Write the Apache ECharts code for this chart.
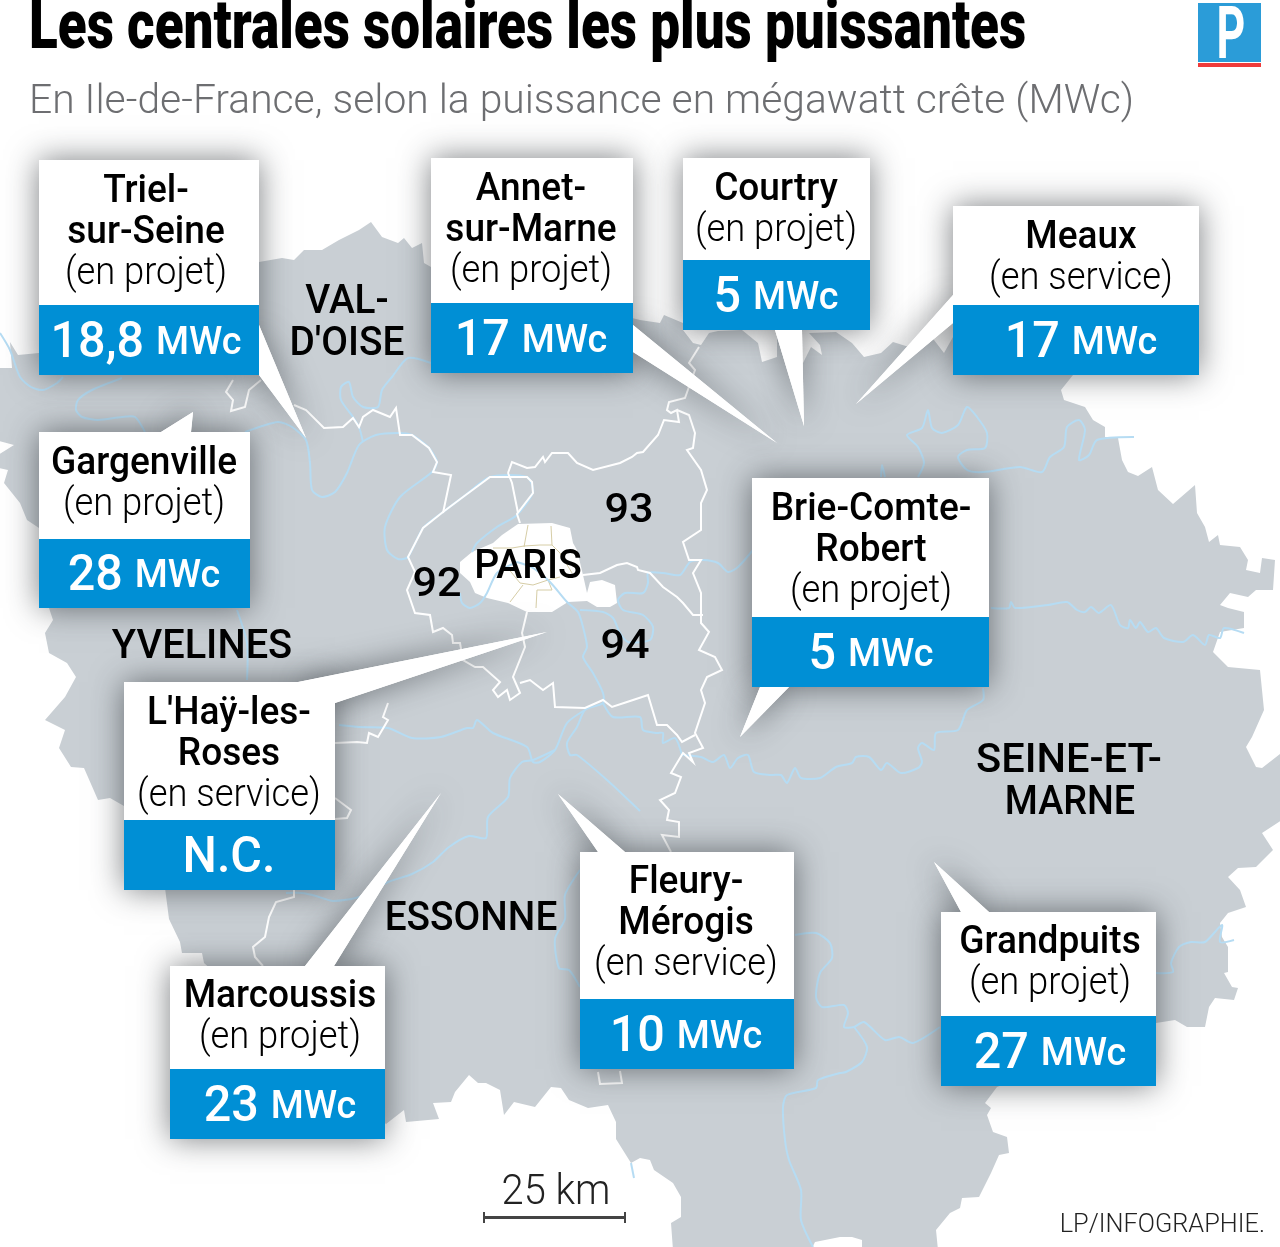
<!DOCTYPE html>
<html lang="fr">
<head>
<meta charset="utf-8">
<title>Les centrales solaires les plus puissantes</title>
<script src="https://cdn.jsdelivr.net/npm/echarts@6/dist/echarts.min.js"></script>
<style>
html, body { margin: 0; padding: 0; background: #fff; }
#main { width: 1280px; height: 1247px; }
</style>
</head>
<body>
<div id="main"></div>
<script>
// data
var cardNames = [['Triel-', 'sur-Seine'], ['Annet-', 'sur-Marne'], ['Courtry'], ['Meaux'], ['Gargenville'],
    ['Brie-Comte-', 'Robert'], ["L'Haÿ-les-", 'Roses'], ['Marcoussis'], ['Fleury-', 'Mérogis'], ['Grandpuits']];
var cardStatus = ['en projet', 'en projet', 'en projet', 'en service', 'en projet',
    'en projet', 'en service', 'en projet', 'en service', 'en projet'];
var cardValues = [18.8, 17, 5, 17, 28, 5, null, 23, 10, 27];
var unit = 'MWc';
var deptNames = ['VAL-', "D'OISE", 'YVELINES', 'ESSONNE', 'SEINE-ET-', 'MARNE', 'PARIS', '92', '93', '94'];

// card layout: x, y, width, height, band top, text centre, first line y
var cardBoxes = [
    [39, 160, 220, 215, 305, 146, 192],
    [431, 158, 202, 215, 303, 531, 190],
    [683, 158, 187, 172, 260, 776, 190],
    [953, 206, 246, 169, 305, 1081, 238],
    [39, 432, 211, 176, 539, 144, 464],
    [752, 478, 237, 209, 617, 871, 510],
    [124, 682, 211, 208, 820, 229, 714],
    [170, 966, 215, 173, 1069, 280, 997],
    [580, 852, 214, 217, 999, 686, 883],
    [941, 912, 215, 174, 1016, 1050, 943]
];
var cardPointers = [
    [[259, 325], [306, 438], [259, 375]],
    [[633, 325], [777, 443], [633, 352]],
    [[775, 330], [804, 426], [802, 330]],
    [[953, 295], [856, 404], [953, 323]],
    [[161, 432], [193, 412], [191, 432]],
    [[789, 687], [740, 737], [760, 687]],
    [[298, 682], [547, 632], [335, 703]],
    [[305, 966], [441, 793], [334, 966]],
    [[598, 852], [558, 794], [625, 852]],
    [[961, 912], [934, 862], [989, 912]]
];
var deptAnchors = [[347, 303], [347, 345], [202, 648], [471, 920], [1069, 762], [1070, 804], [528, 568], [437, 586], [629, 512], [625, 648]];
var deptScale = [0.97, 0.97, 0.995, 0.97, 1.04, 0.945, 0.98, 1.08, 1.08, 1.08];

// map outline, traced clockwise from the west edge
var regionOutline = [[-5, 368], [12, 368], [10, 342], [18, 355], [39, 353], [259, 262], [282, 258], [294, 260], [304, 250], [322, 250], [339, 240], [359, 230], [371, 222], [382, 237], [398, 243], [404, 238], [412, 248], [422, 243], [424, 263], [431, 267],
    [640, 320], [660, 323], [664, 315], [683, 323], [683, 330], [693, 343], [701, 345], [709, 333], [718, 331], [742, 330], [758, 343], [762, 362], [777, 357], [777, 330], [803, 363], [811, 347], [822, 355], [820, 345], [809, 333], [836, 332], [852, 343], [864, 357], [881, 353], [893, 342], [909, 347], [926, 333], [934, 340], [944, 353], [953, 337],
    [1073, 375], [1061, 390], [1064, 400], [1085, 407], [1093, 420], [1105, 427], [1105, 437], [1118, 438], [1122, 460], [1128, 472], [1138, 476], [1152, 467], [1158, 490], [1173, 504], [1195, 485], [1197, 513], [1205, 527], [1209, 542], [1218, 535], [1220, 545], [1240, 547], [1248, 560], [1246, 570], [1260, 573], [1262, 558], [1275, 560], [1273, 590], [1256, 590], [1248, 597], [1230, 593], [1220, 605], [1228, 608], [1244, 612], [1244, 628], [1220, 632], [1213, 652], [1228, 667], [1260, 670], [1264, 710], [1252, 737], [1246, 747], [1256, 767], [1262, 768], [1285, 750],
    [1285, 818], [1262, 833], [1273, 850], [1256, 867], [1238, 868], [1228, 877], [1240, 890], [1246, 907], [1228, 913], [1220, 923], [1222, 937], [1228, 947], [1228, 972], [1224, 973], [1232, 987], [1238, 988], [1234, 1000], [1215, 998], [1209, 1007], [1205, 1027], [1187, 1027], [1175, 1020], [1156, 1023],
    [997, 1087], [985, 1103], [991, 1108], [987, 1115], [993, 1132], [1007, 1137], [1009, 1153], [999, 1155], [991, 1173], [979, 1197], [962, 1198], [960, 1208], [950, 1213], [936, 1230], [938, 1250], [862, 1250], [862, 1240], [852, 1237], [840, 1237], [815, 1242], [811, 1250], [673, 1250], [671, 1223], [681, 1217], [681, 1197], [673, 1183], [654, 1170], [650, 1160], [640, 1158],
    [631, 1163], [616, 1139], [616, 1122], [608, 1105], [588, 1108], [569, 1100], [561, 1088], [551, 1087], [535, 1107], [514, 1102], [504, 1115], [500, 1090], [486, 1083], [478, 1083], [469, 1075], [455, 1092], [451, 1102], [433, 1103], [439, 1119], [406, 1122], [404, 1110], [386, 1124],
    [204, 963], [202, 953], [182, 953], [180, 942], [169, 919], [165, 888], [124, 806], [110, 798], [98, 800], [84, 768], [71, 767], [59, 748], [65, 730], [45, 720], [65, 697], [76, 677], [67, 663], [49, 653], [45, 633], [53, 620], [49, 608], [39, 528], [27, 520], [20, 503], [12, 493], [4, 483], [8, 470], [-5, 467], [-5, 457], [14, 445], [-5, 440], [-5, 368]];
var parisOutline = [[518, 524], [552, 523], [570, 528], [573, 543], [577, 550], [583, 575], [587, 593], [590, 582], [602, 580], [615, 585], [617, 603], [610, 607], [597, 607], [587, 601], [568, 602], [552, 612], [527, 612], [508, 603], [487, 598], [475, 593], [470, 582], [460, 573], [460, 562], [472, 552], [493, 543], [502, 535], [518, 524]];
var parisStreets = [
    [[528, 525], [524, 547]], [[551, 526], [552, 545]],
    [[493, 548], [512, 548], [524, 546], [540, 545], [552, 545], [560, 553], [572, 573]],
    [[507, 567], [520, 583], [533, 585], [548, 580], [560, 577]],
    [[523, 585], [510, 602]], [[537, 590], [536, 608]], [[548, 580], [552, 590], [537, 590]]
];
var borderPaths = [
    [[261, 380], [249, 390], [245, 407], [231, 411], [233, 400], [226, 392], [233, 380]],
    [[294, 405], [306, 410], [324, 428], [343, 427], [353, 418], [359, 427], [363, 417], [373, 410], [390, 417], [396, 408], [400, 435], [412, 435], [429, 448], [437, 462], [433, 472], [451, 475], [443, 513]],
    [[520, 523], [517, 514], [533, 493], [532, 482], [527, 477], [490, 477], [463, 497], [443, 512], [423, 528], [408, 557], [415, 572], [407, 590], [415, 613], [430, 615], [433, 632], [443, 628], [452, 635], [453, 643], [460, 643], [463, 660], [475, 667], [483, 667], [500, 682], [493, 690], [498, 697], [507, 690], [510, 700], [520, 693], [513, 677], [525, 647], [522, 633], [527, 612]],
    [[508, 473], [512, 462], [527, 468], [535, 467], [543, 457], [545, 462], [552, 453], [568, 453], [577, 463], [593, 470], [620, 463], [632, 457], [637, 453], [643, 452], [658, 435], [664, 420], [679, 422], [677, 410], [671, 413], [667, 410], [669, 402], [685, 398], [695, 370], [689, 363], [699, 347]],
    [[508, 473], [512, 483], [518, 513]],
    [[677, 410], [689, 415], [695, 433], [693, 448], [687, 450], [701, 470], [707, 490], [701, 503], [701, 530], [683, 542], [689, 560], [701, 560], [693, 573], [701, 593], [701, 623], [709, 632], [699, 650], [715, 657], [722, 670], [707, 677], [701, 690], [705, 703], [695, 733], [703, 748], [689, 753], [693, 762], [683, 753], [671, 773], [681, 777], [675, 793], [660, 800], [669, 810], [667, 820], [679, 822], [679, 837], [662, 835], [671, 852]],
    [[583, 575], [600, 573], [617, 565], [627, 563], [637, 567], [638, 570], [650, 573], [663, 587], [677, 597], [683, 603], [693, 615], [703, 615]],
    [[520, 683], [530, 680], [543, 690], [553, 683], [555, 707], [585, 708], [603, 700], [612, 707], [627, 702], [648, 695], [657, 725], [667, 725], [677, 735], [682, 742], [695, 735]],
    [[388, 703], [383, 717], [388, 720], [378, 737], [369, 733], [367, 743], [357, 742], [335, 743]],
    [[335, 798], [351, 810], [347, 818], [335, 819]],
    [[294, 890], [294, 897], [276, 902], [269, 917], [265, 937], [253, 947], [255, 957], [263, 966]],
    [[598, 1072], [600, 1084], [622, 1083], [620, 1071]]
];
var riverPaths = [
    [[0, 333], [10, 350], [20, 377], [31, 387], [43, 390], [57, 383], [63, 377]],
    [[122, 378], [92, 390], [78, 400], [76, 410], [82, 417], [98, 420], [122, 417], [135, 417], [145, 432]],
    [[245, 432], [278, 422], [292, 427], [306, 440], [310, 463], [312, 490], [322, 497], [335, 492], [347, 473], [359, 445], [376, 435], [398, 433], [412, 435], [429, 448], [437, 462], [432, 472], [400, 497], [385, 527], [387, 550], [398, 559], [408, 557], [423, 528], [443, 512], [463, 497], [490, 477], [527, 477], [533, 492], [517, 515], [497, 527], [477, 543], [472, 552]],
    [[517, 562], [533, 568], [550, 582], [567, 602], [578, 612], [583, 627], [587, 647], [583, 657], [593, 673], [603, 693], [603, 703], [585, 710], [577, 727], [567, 743], [570, 755], [577, 755], [607, 780], [640, 811]],
    [[517, 562], [497, 573], [487, 593], [480, 603], [470, 608], [462, 603], [460, 593]],
    [[580, 610], [603, 612], [613, 618], [620, 633], [628, 642], [650, 640], [653, 627], [643, 615], [623, 610], [618, 600], [625, 593], [643, 593], [648, 583], [648, 573], [663, 573], [680, 575], [690, 562], [703, 560], [718, 563], [728, 572], [738, 567], [753, 550]],
    [[1134, 437], [1097, 440], [1089, 455], [1079, 460], [1085, 430], [1079, 420], [1067, 427], [1064, 447], [1050, 457], [1042, 472], [1020, 467], [983, 472], [967, 470], [958, 457], [967, 450], [985, 448], [987, 433], [977, 417], [967, 407], [958, 425], [942, 433], [932, 428], [928, 410], [922, 428], [907, 435], [918, 447], [924, 463], [918, 477]],
    [[881, 477], [882, 465], [885, 477]],
    [[991, 608], [1009, 608], [1011, 602], [1015, 608], [1048, 605], [1067, 602], [1077, 610], [1085, 612], [1091, 607], [1099, 613], [1111, 605], [1120, 625], [1128, 628], [1130, 620], [1136, 628], [1140, 622], [1148, 632], [1156, 628], [1164, 638], [1183, 642], [1193, 635], [1205, 645], [1209, 635], [1220, 638], [1224, 628], [1244, 633]],
    [[682, 755], [701, 757], [713, 762], [724, 755], [730, 768], [738, 758], [748, 755], [754, 772], [771, 775], [781, 775], [787, 783], [795, 768], [801, 778], [820, 778], [836, 767], [852, 763], [856, 757], [869, 757], [881, 770], [887, 763], [901, 773], [918, 768], [922, 762], [918, 748], [922, 743], [934, 750], [936, 733], [958, 730], [967, 710], [983, 700], [983, 688]],
    [[339, 725], [359, 727], [388, 728], [412, 738], [441, 737], [467, 728], [473, 728], [477, 720], [493, 733], [527, 747], [533, 762], [540, 762], [555, 750], [567, 723], [585, 710]],
    [[555, 750], [533, 760], [522, 762], [510, 778], [508, 797], [488, 817], [486, 838], [469, 836], [449, 847], [433, 862], [412, 874], [388, 882], [359, 897], [333, 901], [316, 896], [302, 893], [286, 893]],
    [[580, 870], [565, 895], [565, 919], [555, 939], [559, 968], [569, 970], [580, 987]],
    [[795, 935], [816, 933], [830, 943], [832, 958], [820, 973], [816, 997], [822, 1007], [844, 1005], [848, 1013], [844, 1027], [854, 1027], [864, 1022], [885, 1040], [899, 1037], [913, 1043], [940, 1027]],
    [[854, 1027], [867, 1047], [862, 1062], [846, 1072], [840, 1073], [818, 1080], [816, 1088], [787, 1095], [783, 1107], [785, 1140], [789, 1160], [801, 1190], [801, 1220], [813, 1247]],
    [[1156, 973], [1173, 972], [1171, 963], [1179, 947], [1191, 942], [1205, 942], [1222, 925], [1220, 942], [1234, 940]],
    [[237, 610], [247, 643], [247, 680]],
    [[431, 363], [408, 358], [392, 377], [382, 390], [378, 407], [363, 407], [353, 397], [349, 382], [341, 387], [341, 400], [353, 417], [359, 427], [363, 442]],
    [[603, 703], [613, 717], [640, 717], [643, 730], [657, 733], [663, 733], [663, 743], [675, 738], [682, 755]],
    [[631, 1163], [634, 1178]]
];

// build map for echarts
function feature(name, ring) {
    return { type: 'Feature', properties: { name: name }, geometry: { type: 'Polygon', coordinates: [ring] } };
}
echarts.registerMap('idf', {
    type: 'FeatureCollection',
    features: [feature('Ile-de-France', regionOutline), feature('Paris', parisOutline)]
});

var myChart = echarts.init(document.getElementById('main'));

function formatValue(v) {
    if (v === null) return '{v|N.C.}';
    return '{v|' + String(v).replace('.', ',') + '} {u|' + unit + '}';
}
function pointsOf(api, pts) {
    return pts.map(function (p) { return api.coord(p); });
}
function label(x, y, text, font, fill, scaleX, extra) {
    var style = { text: text, font: font, fill: fill, align: 'center', verticalAlign: 'middle' };
    if (extra) style.rich = extra;
    return { type: 'text', x: x, y: y, scaleX: scaleX, style: style };
}

function renderShadow(params, api) {
    var i = params.dataIndex, b = cardBoxes[i];
    var shadow = { fill: '#fff', shadowBlur: 30, shadowColor: 'rgba(40,45,50,0.62)' };
    return {
        type: 'group',
        children: [
            { type: 'rect', shape: { x: b[0], y: b[1], width: b[2], height: b[3] }, style: shadow },
            { type: 'polygon', shape: { points: pointsOf(api, cardPointers[i]) }, style: shadow }
        ]
    };
}
function renderCard(params, api) {
    var i = params.dataIndex, b = cardBoxes[i];
    var lines = cardNames[i], cx = b[5], y = b[6], step = 41;
    var children = [
        { type: 'polygon', shape: { points: pointsOf(api, cardPointers[i]) }, style: { fill: '#fff' } },
        { type: 'rect', shape: { x: b[0], y: b[1], width: b[2], height: b[4] - b[1] }, style: { fill: '#fff' } },
        { type: 'rect', shape: { x: b[0], y: b[4], width: b[2], height: b[1] + b[3] - b[4] }, style: { fill: '#008fd5' } }
    ];
    lines.forEach(function (t, k) {
        children.push(label(cx, y + k * step, t, '500 39px Roboto', '#000', 0.95));
    });
    children.push(label(cx, y + lines.length * step, '(' + cardStatus[i] + ')', '300 38px Roboto', '#000', 0.955));
    children.push(label(cx, (b[4] + b[1] + b[3]) / 2 + 4, formatValue(cardValues[i]), '500 49px Roboto', '#fff', 0.97, {
        v: { font: '500 50px Roboto', fill: '#fff' },
        u: { font: '500 39px Roboto', fill: '#fff' }
    }));
    return { type: 'group', children: children };
}
function renderDept(params, api) {
    var i = params.dataIndex, c = api.coord([api.value(0), api.value(1)]);
    return label(c[0], c[1], deptNames[i], '500 40px Roboto', '#000', deptScale[i]);
}
function renderRiver(params, api) {
    return {
        type: 'polyline',
        shape: { points: pointsOf(api, riverPaths[params.dataIndex]), smooth: 0.25 },
        style: { stroke: '#b6dcf3', lineWidth: 2, fill: null }
    };
}

option = {
    backgroundColor: '#fff',
    animation: false,
    tooltip: { show: false },
    geo: {
        map: 'idf',
        silent: true,
        roam: false,
        left: 0,
        top: 0,
        width: 1280,
        height: 1247,
        boundingCoords: [[0, 0], [1280, 1247]],
        projection: {
            project: function (p) { return p; },
            unproject: function (p) { return p; }
        },
        label: { show: false },
        itemStyle: { areaColor: '#c9cfd4', borderWidth: 0 },
        regions: [{ name: 'Paris', itemStyle: { areaColor: '#fff', borderWidth: 0 } }]
    },
    graphic: {
        elements: [
            { type: 'text', x: 29, y: 31, scaleX: 0.78, style: { text: 'Les centrales solaires les plus puissantes', font: '900 68px Roboto', fill: '#000', verticalAlign: 'middle' } },
            { type: 'text', x: 29, y: 103, scaleX: 1.02, style: { text: 'En Ile-de-France, selon la puissance en mégawatt crête (MWc)', font: '300 40px Roboto', fill: '#6d6e71', verticalAlign: 'middle' } },
            { type: 'rect', shape: { x: 1198, y: 3, width: 63, height: 59 }, style: { fill: '#2b9cd8' } },
            { type: 'rect', shape: { x: 1198, y: 63, width: 63, height: 4 }, style: { fill: '#ef3b3b' } },
            { type: 'text', x: 1231, y: 40, scaleX: 0.62, style: { text: 'P', font: '700 72px Roboto', fill: '#fff', align: 'center', verticalAlign: 'middle' } },
            { type: 'text', x: 556, y: 1193, scaleX: 0.95, style: { text: '25 km', font: '300 42px Roboto', fill: '#222', align: 'center', verticalAlign: 'middle' } },
            { type: 'rect', shape: { x: 483, y: 1216, width: 143, height: 3 }, style: { fill: '#444' } },
            { type: 'rect', shape: { x: 483, y: 1212, width: 2, height: 11 }, style: { fill: '#444' } },
            { type: 'rect', shape: { x: 624, y: 1212, width: 2, height: 11 }, style: { fill: '#444' } },
            { type: 'text', x: 1265, y: 1225, scaleX: 0.975, style: { text: 'LP/INFOGRAPHIE.', font: '300 26px Roboto', fill: '#222', align: 'right', verticalAlign: 'middle' } }
        ]
    },
    series: [
        {
            type: 'lines',
            coordinateSystem: 'geo',
            polyline: true,
            silent: true,
            z: 2,
            lineStyle: { color: '#d6cda6', width: 1, opacity: 1 },
            data: parisStreets.map(function (p) { return { coords: p }; })
        },
        {
            type: 'custom',
            coordinateSystem: 'geo',
            silent: true,
            z: 3,
            renderItem: renderRiver,
            data: riverPaths.map(function (p) { return p[0]; })
        },
        {
            type: 'lines',
            coordinateSystem: 'geo',
            polyline: true,
            silent: true,
            z: 4,
            lineStyle: { color: '#fff', width: 2, opacity: 1 },
            data: borderPaths.map(function (p) { return { coords: p }; })
        },
        {
            type: 'custom',
            coordinateSystem: 'geo',
            silent: true,
            z: 5,
            renderItem: renderShadow,
            data: cardBoxes.map(function (b) { return [b[0], b[1]]; })
        },
        {
            type: 'custom',
            coordinateSystem: 'geo',
            silent: true,
            z: 6,
            renderItem: renderDept,
            data: deptAnchors
        },
        {
            type: 'custom',
            coordinateSystem: 'geo',
            silent: true,
            z: 7,
            renderItem: renderCard,
            data: cardBoxes.map(function (b) { return [b[0], b[1]]; })
        }
    ]
};
myChart.setOption(option);
</script>
</body>
</html>
